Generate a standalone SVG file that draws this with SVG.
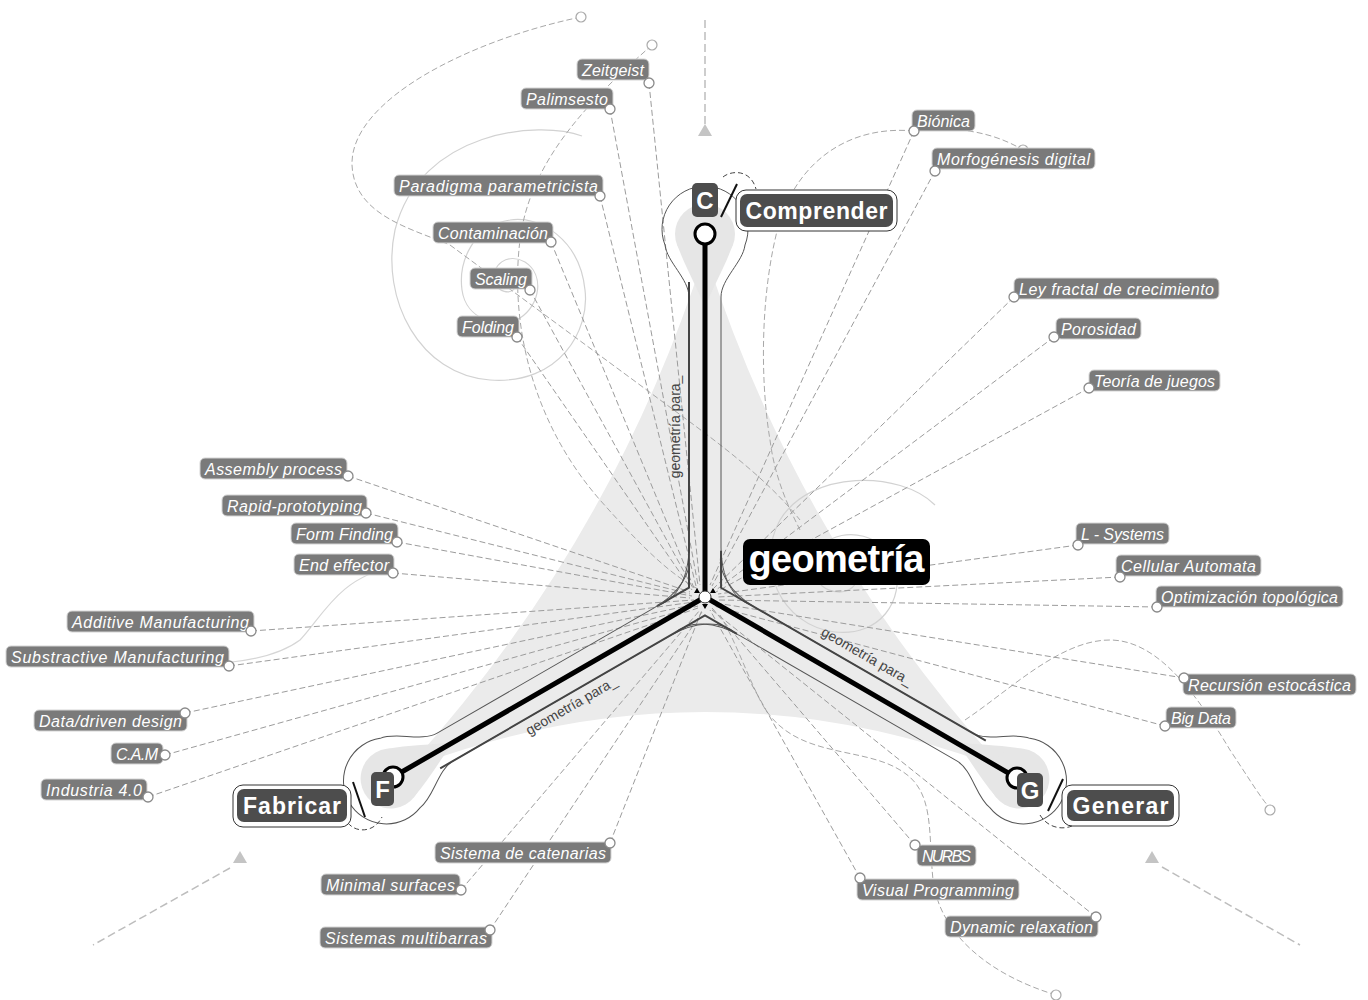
<svg xmlns="http://www.w3.org/2000/svg" xmlns:xlink="http://www.w3.org/1999/xlink" width="1368" height="1000" viewBox="0 0 1368 1000">
<defs>
<style>
.lbl rect{fill:#7a7a7a;stroke:#d4d4d4;stroke-width:1}
.lbl text{fill:#fff;font-family:"Liberation Sans",Arial,sans-serif;font-style:italic;font-size:16px}
.pin{fill:#fff;stroke:#8a8a8a;stroke-width:1.3}
.con{fill:none;stroke:#9c9c9c;stroke-width:1;stroke-dasharray:6 3}
.deco{fill:none;stroke:#a8a8a8;stroke-width:1;stroke-dasharray:6 3}
.faint{fill:none;stroke:#d6d6d6;stroke-width:1.2}
.spiral{fill:none;stroke:#d2d2d2;stroke-width:1.2}
.main .o{fill:#fff;stroke:#333;stroke-width:1}
.main .i{fill:#4d4d4d}
.main text{fill:#fff;font-family:"Liberation Sans",Arial,sans-serif;font-weight:bold;font-size:23px}
.letter rect{fill:#4d4d4d}
.letter text{fill:#fff;font-family:"Liberation Sans",Arial,sans-serif;font-weight:bold;font-size:24px;text-anchor:middle}
.slash{stroke:#111;stroke-width:2}
.darc{fill:none;stroke:#444;stroke-width:1;stroke-dasharray:5 3}
.para{fill:#444;font-family:"Liberation Sans",Arial,sans-serif;font-size:14px;text-anchor:middle}
.arrowline{fill:none;stroke:#bdbdbd;stroke-width:1.5;stroke-dasharray:8 4}
.tri{fill:#c4c4c4}
.end{fill:#fff;stroke:#aaa;stroke-width:1.2}
</style>
<g id="arm">
<path d="M-28,-353 C-20,-330 -8,-310 0,-290 C8,-310 20,-330 28,-353 Z" fill="#e6e6e6"/>
<circle cx="0" cy="-363" r="30" fill="#e6e6e6"/>
<path d="M-46,8 C-28,2 -16,-20 -16,-50 L-16,-300 C-16,-318 -38,-335 -40,-352 A43 43 0 1 1 40,-352 C38,-335 16,-318 16,-300 L16,-50 C16,-20 28,2 46,8" fill="none" stroke="#555" stroke-width="1"/>
<polyline points="-16,-315 -16,-9.3 -48,9.2" fill="none" stroke="#444" stroke-width="2"/>
</g>
</defs>
<rect width="1368" height="1000" fill="#fff"/>

<g id="background">
<path d="M705,252 Q612.3,543.5 406,769.5 Q705,654.5 1004,769.5 Q797.7,543.5 705,252 Z" fill="#ebebeb"/>
<path class="spiral" d="M582,136 C540,120 420,130 395,230 C380,300 420,375 490,380 C560,385 590,330 585,290 C580,240 540,215 510,220 C475,225 458,260 462,290 C466,320 500,330 520,318 C540,305 545,275 525,262 C508,252 490,265 495,282 C498,292 510,295 515,288"/>
<path class="spiral" d="M935,505 C900,470 810,470 780,520 C755,565 780,625 835,632 C880,637 905,600 895,565 C885,535 845,525 822,545 C805,560 812,590 838,592 C858,593 865,570 850,562"/>
<line class="arrowline" x1="705" y1="20" x2="705" y2="124"/>
<polygon class="tri" points="698,136 712,136 705,124"/>
<line class="arrowline" x1="230" y1="868" x2="93" y2="945"/>
<polygon class="tri" points="233,863 247,863 240,851"/>
<line class="arrowline" x1="1162" y1="867" x2="1300" y2="945"/>
<polygon class="tri" points="1145,863 1159,863 1152,851"/>
</g>

<g id="connectors">
<path class="deco" d="M581,17 C470,40 350,100 352,165 C354,215 410,228 450,245 L640,385 C700,430 760,470 800,520"/>
<path class="deco" d="M652,45 C590,100 530,160 520,240 C510,320 530,420 600,500 C640,545 670,575 700,590"/>
<path class="deco" d="M914,131 C850,125 800,160 780,220 C760,290 760,380 770,440 C775,480 790,510 800,530"/>
<path class="deco" d="M914,131 C950,126 990,130 1023,150"/>
<path class="deco" d="M965,720 C1010,690 1060,640 1110,640 C1160,640 1200,700 1230,750 C1250,780 1262,800 1270,808"/>
<path class="deco" d="M1056,995 C990,975 940,935 933,880 C928,830 935,790 900,770 C860,745 790,760 760,700 C745,670 735,640 720,615"/>
<path class="faint" d="M393,568 C340,575 320,620 300,640 C280,655 250,660 232,662"/>
<path class="con" d="M649,83 L700,585"/>
<path class="con" d="M610,109 L698,585"/>
<path class="con" d="M600,196 L696,586"/>
<path class="con" d="M551,242 L694,588"/>
<path class="con" d="M530,290 L694,590"/>
<path class="con" d="M517,337 L692,590"/>
<path class="con" d="M914,131 L710,585"/>
<path class="con" d="M935,171 L712,586"/>
<path class="con" d="M1014,297 L714,588"/>
<path class="con" d="M1054,337 L716,590"/>
<path class="con" d="M1089,388 L716,592"/>
<path class="con" d="M1078,545 L718,594"/>
<path class="con" d="M1120,577 L718,597"/>
<path class="con" d="M1157,607 L718,600"/>
<path class="con" d="M1184,678 L716,603"/>
<path class="con" d="M1165,726 L714,606"/>
<path class="con" d="M915,845 L712,608"/>
<path class="con" d="M860,878 L710,610"/>
<path class="con" d="M1096,917 L712,610"/>
<path class="con" d="M610,843 L702,610"/>
<path class="con" d="M461,890 L700,610"/>
<path class="con" d="M490,930 L702,612"/>
<path class="con" d="M348,476 L690,592"/>
<path class="con" d="M366,513 L690,594"/>
<path class="con" d="M397,542 L692,596"/>
<path class="con" d="M393,573 L690,598"/>
<path class="con" d="M251,631 L694,600"/>
<path class="con" d="M229,666 L694,602"/>
<path class="con" d="M185,713 L696,604"/>
<path class="con" d="M165,755 L698,606"/>
<path class="con" d="M148,797 L698,608"/>
<circle class="end" cx="581" cy="17" r="5"/>
<circle class="end" cx="652" cy="45" r="5"/>
<circle class="end" cx="1023" cy="150" r="5"/>
<circle class="end" cx="1270" cy="810" r="5"/>
<circle class="end" cx="1056" cy="995" r="5"/>
</g>

<g id="structure">
<g transform="translate(705,597)">
<use href="#arm" xlink:href="#arm"/>
<use href="#arm" xlink:href="#arm" transform="rotate(120)"/>
<use href="#arm" xlink:href="#arm" transform="rotate(-120)"/>
</g>
<text class="para" transform="translate(680,427) rotate(-90)">geometría para_</text>
<text class="para" transform="translate(864.7,660.4) rotate(30)">geometría para_</text>
<text class="para" transform="translate(573.8,709.7) rotate(-30)">geometría para_</text>
<g stroke="#000" stroke-width="5" stroke-linecap="round">
<line x1="705" y1="597" x2="705" y2="234"/>
<line x1="705" y1="597" x2="393" y2="777"/>
<line x1="705" y1="597" x2="1017" y2="778"/>
</g>
<circle cx="705" cy="234" r="10" fill="#fff" stroke="#000" stroke-width="3"/>
<circle cx="393" cy="777" r="10" fill="#fff" stroke="#000" stroke-width="3"/>
<circle cx="1017" cy="778" r="10" fill="#fff" stroke="#000" stroke-width="3"/>
<g fill="#000">
<polygon points="697,588 694,593 700,593"/>
<polygon points="713,588 710,593 716,593"/>
<polygon points="705,609 702,604 708,604"/>
</g>
<circle cx="705" cy="597" r="6" fill="#fff" stroke="#333" stroke-width="1"/>
</g>

<g id="node-geometria">
<rect x="743" y="539" width="187" height="46" rx="7" fill="#000"/>
<text x="836.5" y="572" text-anchor="middle" textLength="176" font-family="'Liberation Sans',Arial,sans-serif" font-weight="bold" font-size="38" fill="#fff">geometría</text>
</g>

<g id="node-comprender" class="main">
<rect class="o" x="736" y="190" width="161" height="41" rx="10"/>
<rect class="i" x="740" y="194" width="153" height="33" rx="7"/>
<text x="816.5" y="219" text-anchor="middle" textLength="142">Comprender</text>
<g class="letter"><rect x="692" y="183" width="26" height="34" rx="5"/><text x="705" y="209">C</text></g>
<line class="slash" x1="737" y1="184" x2="721" y2="217"/>
<path class="darc" d="M723,177 C730,171 750,168 756,189"/>
</g>

<g id="node-fabricar" class="main">
<rect class="o" x="233" y="785" width="118" height="42" rx="10"/>
<rect class="i" x="237" y="789" width="110" height="33" rx="7"/>
<text x="292" y="814" text-anchor="middle" textLength="98">Fabricar</text>
<g class="letter"><rect x="371" y="772" width="23" height="34" rx="5"/><text x="382.5" y="798">F</text></g>
<line class="slash" x1="353" y1="782" x2="365" y2="817"/>
<path class="darc" d="M348,823 C356,833 374,833 382,817"/>
</g>

<g id="node-generar" class="main">
<rect class="o" x="1062" y="785" width="117" height="41" rx="10"/>
<rect class="i" x="1067" y="790" width="107" height="31" rx="7"/>
<text x="1120.5" y="814" text-anchor="middle" textLength="96">Generar</text>
<g class="letter"><rect x="1017" y="773" width="26" height="34" rx="5"/><text x="1030" y="799">G</text></g>
<line class="slash" x1="1063" y1="779" x2="1048" y2="811"/>
<path class="darc" d="M1040,815 C1048,828 1062,830 1072,826"/>
</g>

<g id="n-zeitgeist" class="lbl"><rect x="577" y="59" width="72" height="21" rx="5"/><text x="582" y="75.5" textLength="62">Zeitgeist</text><circle class="pin" cx="649" cy="83" r="5"/></g>
<g id="n-palimsesto" class="lbl"><rect x="521" y="88" width="92" height="21" rx="5"/><text x="526" y="104.5" textLength="82">Palimsesto</text><circle class="pin" cx="610" cy="109" r="5"/></g>
<g id="n-paradigma" class="lbl"><rect x="394" y="175" width="209" height="21" rx="5"/><text x="399" y="191.5" textLength="199">Paradigma parametricista</text><circle class="pin" cx="600" cy="196" r="5"/></g>
<g id="n-contaminacion" class="lbl"><rect x="433" y="222" width="120" height="21" rx="5"/><text x="438" y="238.5" textLength="110">Contaminación</text><circle class="pin" cx="551" cy="242" r="5"/></g>
<g id="n-scaling" class="lbl"><rect x="470" y="268" width="62" height="21" rx="5"/><text x="475" y="284.5" textLength="52">Scaling</text><circle class="pin" cx="530" cy="290" r="5"/></g>
<g id="n-folding" class="lbl"><rect x="457" y="316" width="62" height="21" rx="5"/><text x="462" y="332.5" textLength="52">Folding</text><circle class="pin" cx="517" cy="337" r="5"/></g>
<g id="n-bionica" class="lbl"><rect x="912" y="110" width="63" height="21" rx="5"/><text x="917" y="126.5" textLength="53">Biónica</text><circle class="pin" cx="914" cy="131" r="5"/></g>
<g id="n-morfogenesis" class="lbl"><rect x="932" y="148" width="163" height="21" rx="5"/><text x="937" y="164.5" textLength="153">Morfogénesis digital</text><circle class="pin" cx="935" cy="171" r="5"/></g>
<g id="n-leyfractal" class="lbl"><rect x="1014" y="278" width="205" height="21" rx="5"/><text x="1019" y="294.5" textLength="195">Ley fractal de crecimiento</text><circle class="pin" cx="1014" cy="297" r="5"/></g>
<g id="n-porosidad" class="lbl"><rect x="1056" y="318" width="85" height="21" rx="5"/><text x="1061" y="334.5" textLength="75">Porosidad</text><circle class="pin" cx="1054" cy="337" r="5"/></g>
<g id="n-teoria" class="lbl"><rect x="1089" y="370" width="131" height="21" rx="5"/><text x="1094" y="386.5" textLength="121">Teoría de juegos</text><circle class="pin" cx="1089" cy="388" r="5"/></g>
<g id="n-lsystems" class="lbl"><rect x="1076" y="523" width="93" height="21" rx="5"/><text x="1081" y="539.5" textLength="83">L - Systems</text><circle class="pin" cx="1078" cy="545" r="5"/></g>
<g id="n-cellular" class="lbl"><rect x="1116" y="555" width="145" height="21" rx="5"/><text x="1121" y="571.5" textLength="135">Cellular Automata</text><circle class="pin" cx="1120" cy="577" r="5"/></g>
<g id="n-optimizacion" class="lbl"><rect x="1156" y="586" width="187" height="21" rx="5"/><text x="1161" y="602.5" textLength="177">Optimización topológica</text><circle class="pin" cx="1157" cy="607" r="5"/></g>
<g id="n-recursion" class="lbl"><rect x="1183" y="674" width="173" height="21" rx="5"/><text x="1188" y="690.5" textLength="163">Recursión estocástica</text><circle class="pin" cx="1184" cy="678" r="5"/></g>
<g id="n-bigdata" class="lbl"><rect x="1166" y="707" width="70" height="21" rx="5"/><text x="1171" y="723.5" textLength="60">Big Data</text><circle class="pin" cx="1165" cy="726" r="5"/></g>
<g id="n-nurbs" class="lbl"><rect x="917" y="845" width="59" height="21" rx="5"/><text x="922" y="861.5" textLength="49">NURBS</text><circle class="pin" cx="915" cy="845" r="5"/></g>
<g id="n-visual" class="lbl"><rect x="857" y="879" width="162" height="21" rx="5"/><text x="862" y="895.5" textLength="152">Visual Programming</text><circle class="pin" cx="860" cy="878" r="5"/></g>
<g id="n-dynamic" class="lbl"><rect x="945" y="916" width="153" height="21" rx="5"/><text x="950" y="932.5" textLength="143">Dynamic relaxation</text><circle class="pin" cx="1096" cy="917" r="5"/></g>
<g id="n-catenarias" class="lbl"><rect x="435" y="842" width="176" height="21" rx="5"/><text x="440" y="858.5" textLength="166">Sistema de catenarias</text><circle class="pin" cx="610" cy="843" r="5"/></g>
<g id="n-minimal" class="lbl"><rect x="321" y="874" width="139" height="21" rx="5"/><text x="326" y="890.5" textLength="129">Minimal surfaces</text><circle class="pin" cx="461" cy="890" r="5"/></g>
<g id="n-multibarras" class="lbl"><rect x="320" y="927" width="172" height="21" rx="5"/><text x="325" y="943.5" textLength="162">Sistemas multibarras</text><circle class="pin" cx="490" cy="930" r="5"/></g>
<g id="n-assembly" class="lbl"><rect x="200" y="458" width="147" height="21" rx="5"/><text x="205" y="474.5" textLength="137">Assembly process</text><circle class="pin" cx="348" cy="476" r="5"/></g>
<g id="n-rapid" class="lbl"><rect x="222" y="495" width="145" height="21" rx="5"/><text x="227" y="511.5" textLength="135">Rapid-prototyping</text><circle class="pin" cx="366" cy="513" r="5"/></g>
<g id="n-formfinding" class="lbl"><rect x="291" y="523" width="107" height="21" rx="5"/><text x="296" y="539.5" textLength="97">Form Finding</text><circle class="pin" cx="397" cy="542" r="5"/></g>
<g id="n-endeffector" class="lbl"><rect x="294" y="554" width="100" height="21" rx="5"/><text x="299" y="570.5" textLength="90">End effector</text><circle class="pin" cx="393" cy="573" r="5"/></g>
<g id="n-additive" class="lbl"><rect x="67" y="611" width="187" height="21" rx="5"/><text x="72" y="627.5" textLength="177">Additive Manufacturing</text><circle class="pin" cx="251" cy="631" r="5"/></g>
<g id="n-substractive" class="lbl"><rect x="6" y="646" width="223" height="21" rx="5"/><text x="11" y="662.5" textLength="213">Substractive Manufacturing</text><circle class="pin" cx="229" cy="666" r="5"/></g>
<g id="n-datadriven" class="lbl"><rect x="34" y="710" width="153" height="21" rx="5"/><text x="39" y="726.5" textLength="143">Data/driven design</text><circle class="pin" cx="185" cy="713" r="5"/></g>
<g id="n-cam" class="lbl"><rect x="111" y="743" width="52" height="21" rx="5"/><text x="116" y="759.5" textLength="42">C.A.M</text><circle class="pin" cx="165" cy="755" r="5"/></g>
<g id="n-industria" class="lbl"><rect x="41" y="779" width="106" height="21" rx="5"/><text x="46" y="795.5" textLength="96">Industria 4.0</text><circle class="pin" cx="148" cy="797" r="5"/></g>
</svg>
